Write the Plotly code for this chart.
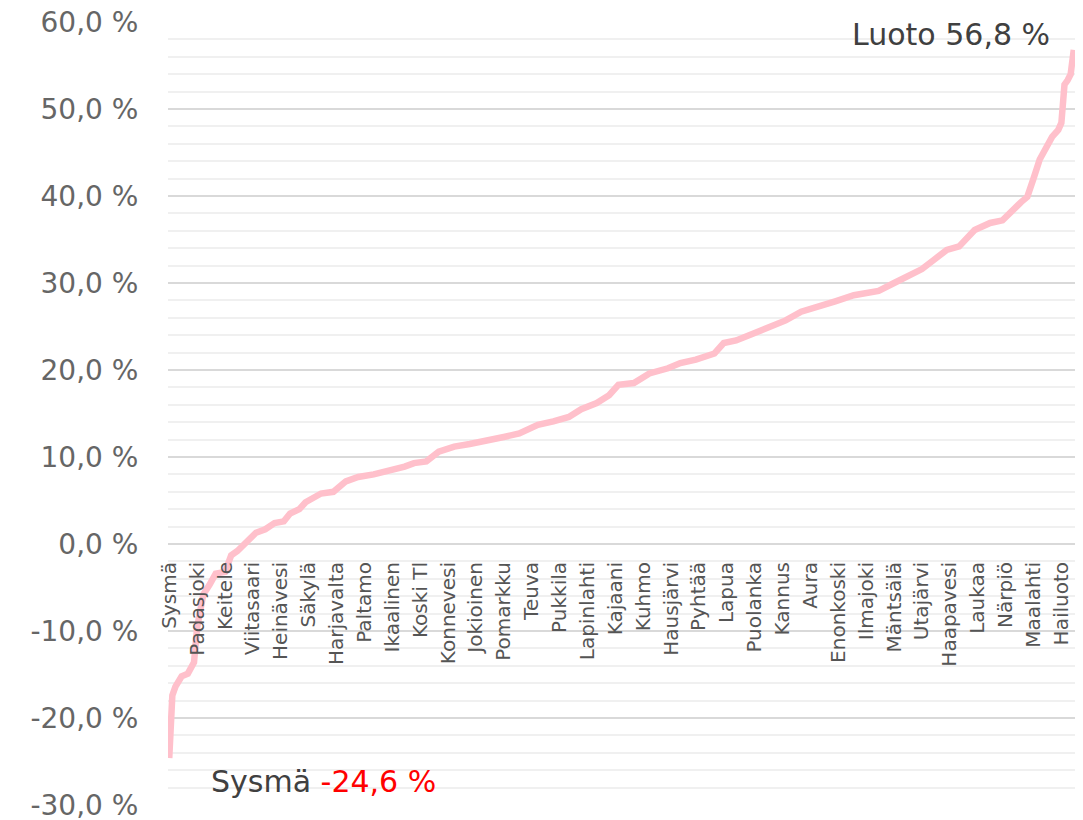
import plotly.graph_objects as go

# rank of the municipality (0 = lowest) and its change in percent
rank = [0, 1, 2, 4, 6, 7, 8, 9, 10, 11, 13, 15, 18, 20, 22, 25, 28, 31, 34, 37, 39, 42,
        44, 49, 53, 57, 61, 66, 71, 76, 79, 83, 87, 92, 97, 102, 108, 113, 119, 124, 129,
        133, 138, 142, 145, 150, 155, 161, 165, 170, 176, 179, 183, 188, 195, 199, 204,
        210, 215, 221, 229, 234, 238, 243, 247, 251, 255, 260, 265, 269, 275, 277, 279,
        281, 285, 287, 288, 289, 290, 291, 292]
change = [-24.6, -17.4, -16.4, -15.2, -14.9, -14.4, -13.6, -9.6, -7.5, -5.8, -4.7, -3.4,
          -3.2, -1.3, -0.8, 0.3, 1.3, 1.7, 2.4, 2.6, 3.5, 4.0, 4.8, 5.8, 6.0, 7.2, 7.7, 8.0,
          8.4, 8.9, 9.3, 9.5, 10.6, 11.2, 11.5, 11.8, 12.3, 12.7, 13.7, 14.1, 14.6, 15.5,
          16.2, 17.1, 18.3, 18.5, 19.6, 20.2, 20.8, 21.2, 21.9, 23.1, 23.4, 24.1, 25.2,
          25.7, 26.7, 27.3, 27.9, 28.6, 29.1, 30.0, 30.8, 31.6, 32.7, 33.8, 34.2, 36.1,
          36.9, 37.2, 39.3, 39.9, 42.0, 44.2, 46.8, 47.6, 48.4, 52.8, 53.3, 54.0, 56.8]

first_name = "Sysmä"
last_name = "Luoto"

tick_step = 9
tick_labels = ["Sysmä", "Padasjoki", "Keitele", "Viitasaari", "Heinävesi", "Säkylä",
               "Harjavalta", "Paltamo", "Ikaalinen", "Koski Tl", "Konnevesi", "Jokioinen",
               "Pomarkku", "Teuva", "Pukkila", "Lapinlahti", "Kajaani", "Kuhmo", "Hausjärvi",
               "Pyhtää", "Lapua", "Puolanka", "Kannus", "Aura", "Enonkoski", "Ilmajoki",
               "Mäntsälä", "Utajärvi", "Haapavesi", "Laukaa", "Närpiö", "Maalahti", "Hailuoto"]
tick_vals = [i * tick_step for i in range(len(tick_labels))]

y_ticks = [-30, -20, -10, 0, 10, 20, 30, 40, 50, 60]
y_min, y_max = y_ticks[0], y_ticks[-1]
FONT = "DejaVu Sans, sans-serif"


def fmt(v):
    return f"{v:.1f}".replace(".", ",") + " %"


fig = go.Figure(
    go.Scatter(
        x=rank,
        y=change,
        mode="lines",
        line=dict(color="#ffc0cb", width=6.5),
        hoverinfo="skip",
    )
)

fig.add_annotation(
    x=rank[0], y=change[0], xanchor="left", yanchor="middle", xshift=40, yshift=-23,
    text=f"{first_name} <span style='color:#ff0000'>{fmt(change[0])}</span>",
    showarrow=False, font=dict(size=30, color="#404040", family=FONT),
)
fig.add_annotation(
    x=rank[-1], y=change[-1], xanchor="right", yanchor="middle", xshift=-22, yshift=15,
    text=f"{last_name} {fmt(change[-1])}",
    showarrow=False, font=dict(size=30, color="#404040", family=FONT),
)

# the page body has an 8px margin, so the figure is 8px smaller than the window
fig.update_layout(
    width=1075,
    height=812,
    margin=dict(l=160, r=8, t=14, b=15),
    paper_bgcolor="white",
    plot_bgcolor="white",
    showlegend=False,
    font=dict(family=FONT, color="#666666"),
    xaxis=dict(
        range=[-0.4, rank[-1] + 0.4],
        tickvals=tick_vals,
        ticktext=tick_labels,
        tickangle=-90,
        tickfont=dict(size=20, color="#555555"),
        ticks="outside",
        ticklen=9,
        tickcolor="rgba(0,0,0,0)",
        showgrid=False,
        zeroline=False,
        showline=False,
        anchor="free",
        position=(0 - y_min) / (y_max - y_min),
        automargin=False,
    ),
    yaxis=dict(
        range=[y_min, y_max],
        tickvals=y_ticks,
        ticktext=[fmt(v) for v in y_ticks],
        tickfont=dict(size=28, color="#666666"),
        ticks="outside",
        ticklen=23,
        tickcolor="rgba(0,0,0,0)",
        ticklabeloverflow="allow",
        showgrid=True,
        gridcolor="#d9d9d9",
        gridwidth=1.5,
        zeroline=False,
        minor=dict(dtick=2, showgrid=True, gridcolor="#f0f0f0", gridwidth=1.5),
        automargin=False,
    ),
)

fig.write_html("out.html")
